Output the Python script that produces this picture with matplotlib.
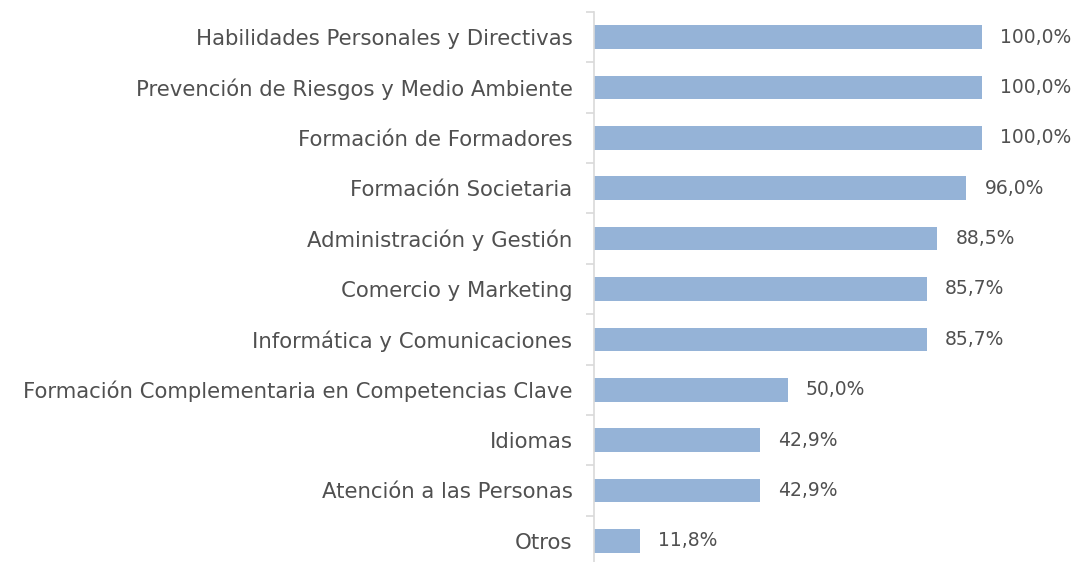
import matplotlib
matplotlib.use("Agg")
import matplotlib.pyplot as plt
import numpy as np

categories = [
    "Habilidades Personales y Directivas",
    "Prevención de Riesgos y Medio Ambiente",
    "Formación de Formadores",
    "Formación Societaria",
    "Administración y Gestión",
    "Comercio y Marketing",
    "Informática y Comunicaciones",
    "Formación Complementaria en Competencias Clave",
    "Idiomas",
    "Atención a las Personas",
    "Otros",
]
values = [100.0, 100.0, 100.0, 96.0, 88.5, 85.7, 85.7, 50.0, 42.9, 42.9, 11.8]

W, H = 1076, 562
fig = plt.figure(figsize=(W / 100, H / 100), dpi=100)
# axes placed in pixel coordinates
left, right, top, bottom = 594, 1070, 12, 566
ax = fig.add_axes([left / W, (H - bottom) / H, (right - left) / W, (bottom - top) / H])

n = len(categories)
y = np.arange(n)
ax.barh(y, values, height=0.47, color="#95b3d7", zorder=2)
ax.set_ylim(n - 0.5, -0.5)
ax.set_xlim(0, 100 * (right - left) / (982 - left))

text_color = "#505050"
for yi, v in zip(y, values):
    ax.annotate(f"{v:.1f}%".replace(".", ","), (v, yi), xytext=(18, 0),
                textcoords="offset pixels", va="center", ha="left",
                fontsize=13.5, color=text_color)

ax.set_yticks(y)
ax.set_yticklabels(categories, fontsize=15.35, color=text_color)
ax.tick_params(axis="y", which="major", length=0, pad=15.5)
ax.set_yticks(np.arange(n + 1) - 0.5, minor=True)
ax.tick_params(axis="y", which="minor", length=6, color="#d9d9d9", width=1.2)
ax.set_xticks([])

for s in ["top", "right", "bottom"]:
    ax.spines[s].set_visible(False)
ax.spines["left"].set_color("#d9d9d9")
ax.spines["left"].set_linewidth(1.2)

fig.savefig("out.png", dpi=100)
